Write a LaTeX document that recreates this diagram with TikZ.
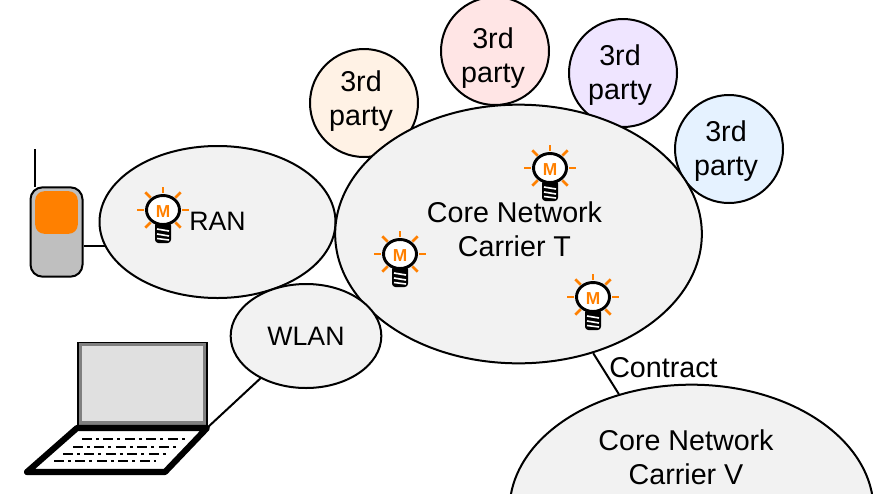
\documentclass[tikz,border=0pt]{standalone}
\usepackage{fontspec}
\setmainfont{Liberation Sans}
\usetikzlibrary{shapes.geometric,backgrounds}
\definecolor{netfill}{HTML}{F2F2F2}
\definecolor{bulborange}{HTML}{FF8000}
\definecolor{po}{HTML}{FFF2E5}
\definecolor{pr}{HTML}{FFE5E5}
\definecolor{pv}{HTML}{EFE5FF}
\definecolor{pb}{HTML}{E5F2FF}
\tikzset{
  x=0.75pt,y=-0.75pt,
  label text/.style={font=\fontsize{21.5pt}{25.5pt}\selectfont,align=center,text=black},
  small text/.style={font=\fontsize{20pt}{25pt}\selectfont,align=center,text=black},
  net/.style={ellipse,draw=black,line width=1.5pt,fill=netfill,inner sep=0pt},
  party/.style={net,circle,minimum size=81pt},
  link/.style={draw=black,line width=1.5pt},
  keys/.style={line width=2.2pt,dash pattern=on 7.5pt off 3pt on 2.2pt off 3.4pt},
  ray/.style={bulborange,line width=2pt},
  pics/bulb/.style={code={
    \draw[ray] (90:16) -- (90:23.5) (270:17) -- (270:23);
    \foreach \a in {0,180}{\draw[ray] (\a:19) -- (\a:26);}
    \foreach \a in {45,135,225,315}{\draw[ray] (\a:17.5) -- (\a:25);}
    \fill[black,rounded corners=2.5pt] (-8,12) rectangle (8,33);
    \draw[white,line width=1.2pt] (-6,19) -- (6,21) (-6,24) -- (6,26) (-6,28.5) -- (6,30);
    \draw[black,line width=2.2pt,fill=white] (0,0) ellipse [x radius=16.5,y radius=14.5];
    \node[inner sep=0pt,text=bulborange,font=\bfseries\fontsize{13pt}{13pt}\selectfont] at (0,1.5) {M};
  }}
}
\begin{document}
\begin{tikzpicture}
\useasboundingbox (0,0) rectangle (873,493);
% phone
\coordinate (antTop) at (35,149);
\coordinate (antBase) at (35,187);
\draw[link] (antTop) -- (antBase);
\node[draw=black,line width=1.5pt,fill=black!25,rounded corners=9pt,minimum width=39pt,minimum height=67pt,inner sep=0pt] (phone) at (56.5,232) {};
\node[fill=bulborange,rounded corners=7pt,minimum width=32pt,minimum height=32pt,inner sep=0pt] (screen) at (56.5,212.5) {};
% laptop
\node[draw=black,line width=1.2pt,fill=black!50,minimum width=97pt,minimum height=63pt,inner sep=0pt] (lid) at (142.5,384.5) {};
\node[fill=black!12,minimum width=90.5pt,minimum height=56pt,inner sep=0pt] (display) at (142.5,383.5) {};
\coordinate (baseTR) at (207,428);
\draw[black,line width=4.6pt,line join=round,fill=white] (77,428) -- (baseTR) -- (165,472) -- (27,472) -- cycle;
\draw[keys] (82,439) -- (186,439);
\draw[keys] (73,447) -- (176,447);
\draw[keys] (63,454) -- (166,454);
\draw[keys] (54,461) -- (156,461);
% third parties
\node[party,fill=po] (p1) at (364,103) {};
\node[party,fill=pr] (p2) at (495,51) {};
\node[party,fill=pv] (p3) at (623,73) {};
\node[party,fill=pb] (p4) at (729,149) {};
\node[label text] (p1text) at (361,101) {3rd\\party};
\node[label text] (p2text) at (493,58) {3rd\\party};
\node[label text] (p3text) at (620,75) {3rd\\party};
\node[label text] (p4text) at (726,151) {3rd\\party};
% networks
\node[net,minimum width=177pt,minimum height=114pt] (ran) at (217.5,222) {};
\node[small text] (rantext) at (217.5,221) {RAN};
\node[net,minimum width=275pt,minimum height=194pt] (coreT) at (518.5,234) {};
\node[label text] (coretext) at (514.5,229.5) {Core Network\\Carrier T};
\node[net,small text,minimum width=113pt,minimum height=78pt] (wlan) at (306,336) {WLAN};
\begin{scope}
\clip (0,0) rectangle (873,493);
\node[net,minimum width=273pt,minimum height=188pt] (coreV) at (691.5,510) {};
\end{scope}
\node[label text] (corevtext) at (686,457) {Core Network\\Carrier V};
\node[label text,anchor=west,inner sep=0pt] (contract) at (609,368) {Contract};
% connectors
\begin{scope}[on background layer]
\draw[link] (phone.east |- 0,246) -- (ran.center |- 0,246);
\draw[link] (baseTR) -- (wlan.center);
\end{scope}
\draw[link] (coreT) -- (coreV);
% bulbs
\pic at (163,210) {bulb};
\pic at (550,168) {bulb};
\pic at (400,254) {bulb};
\pic at (593,297) {bulb};
\end{tikzpicture}
\end{document}
